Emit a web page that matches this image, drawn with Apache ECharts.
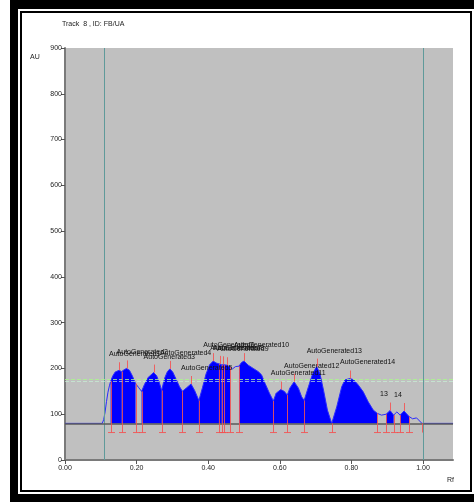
<!DOCTYPE html>
<html>
<head>
<meta charset="utf-8">
<script src="https://cdn.jsdelivr.net/npm/echarts@6/dist/echarts.min.js"></script>
<style>
  html, body { margin: 0; padding: 0; background: #fff; }
  #chart { width: 474px; height: 502px; }
</style>
</head>
<body>
<div id="chart"></div>
<script>
// Densitogram of track 8 (Rf vs. AU)
const curveRf = [0.000, 0.104, 0.108, 0.112, 0.116, 0.120, 0.124, 0.1275, 0.133, 0.140, 0.151, 0.158, 0.165, 0.172, 0.180, 0.188, 0.197, 0.205,
  0.214, 0.222, 0.232, 0.2475, 0.256, 0.263, 0.270, 0.278, 0.286, 0.293, 0.301, 0.310, 0.320, 0.328, 0.340, 0.352, 0.362, 0.374,
  0.384, 0.394, 0.404, 0.414, 0.422, 0.430, 0.434, 0.4375, 0.441, 0.445, 0.453, 0.461, 0.468, 0.476, 0.481, 0.486, 0.493, 0.500,
  0.512, 0.526, 0.540, 0.549, 0.559, 0.571, 0.582, 0.590, 0.603, 0.612, 0.621, 0.628, 0.640, 0.652, 0.661, 0.668, 0.680, 0.692,
  0.703, 0.712, 0.722, 0.733, 0.745, 0.759, 0.773, 0.782, 0.796, 0.807, 0.819, 0.833, 0.847, 0.861, 0.872, 0.884, 0.897, 0.908,
  0.918, 0.927, 0.936, 0.947, 0.961, 0.971, 0.982, 0.997, 1.084];
const curveAU = [80, 80, 88, 105, 128, 148, 162, 172, 183, 192, 196, 193, 197, 200, 196, 184, 167, 159,
  150, 165, 180, 191, 184, 170, 152, 178, 193, 199, 192, 177, 160, 150, 158, 166, 152, 130,
  158, 188, 208, 216, 212, 210, 210, 208, 209, 208, 207, 203, 199, 204, 207, 205, 213, 216,
  207, 200, 193, 186, 167, 146, 129, 146, 154, 150, 142, 157, 171, 157, 138, 130, 160, 189,
  204, 189, 153, 109, 80, 116, 160, 175, 178, 175, 164, 149, 127, 109, 102, 98, 100, 108,
  98, 105, 98, 107, 95, 90, 92, 80, 80];

// Integrated peaks: start / end / maximum (Rf) and their names
const peakStart = [0.1275, 0.158, 0.214, 0.270, 0.328, 0.374, 0.430, 0.4375, 0.445, 0.486, 0.582, 0.621, 0.668, 0.745, 0.897, 0.936];
const peakEnd   = [0.158, 0.197, 0.270, 0.328, 0.374, 0.430, 0.4375, 0.445, 0.461, 0.582, 0.621, 0.668, 0.745, 0.872, 0.918, 0.961];
const peakMax   = [0.151, 0.172, 0.2475, 0.293, 0.352, 0.414, 0.434, 0.441, 0.453, 0.500, 0.603, 0.640, 0.703, 0.796, 0.908, 0.947];
const peakNames = ['AutoGenerated1', 'AutoGenerated2', 'AutoGenerated3', 'AutoGenerated4', 'AutoGenerated5',
  'AutoGenerated6', 'AutoGenerated7', 'AutoGenerated8', 'AutoGenerated9', 'AutoGenerated10', 'AutoGenerated11',
  'AutoGenerated12', 'AutoGenerated13', 'AutoGenerated14', '13', '14'];
const trackEnd = 0.997;            // end of scanned track

// Reference levels
const baselineAU = 80;
const markerFootAU = 60;
const levelLines = [176, 171];
const frontLines = [0.106, 1.00];

// Axis ticks
const xTickStep = 0.2;
const xMax = 1.0838;
const yMin = 0, yMax = 900, yStep = 100;

const FONT = "'Liberation Sans', Arial, sans-serif";
const RED = 'rgba(245,80,80,0.85)';

function auAt(rf) {
  for (let i = 0; i < curveRf.length - 1; i++) {
    if (rf >= curveRf[i] && rf <= curveRf[i + 1]) {
      const t = (rf - curveRf[i]) / (curveRf[i + 1] - curveRf[i]);
      return curveAU[i] + t * (curveAU[i + 1] - curveAU[i]);
    }
  }
  return curveAU[curveAU.length - 1];
}

const curveData = curveRf.map((r, i) => [r, curveAU[i]]);
const boundaries = Array.from(new Set(peakStart.concat(peakEnd))).sort((a, b) => a - b);

const fillSeries = peakStart.map((s, k) => ({
  type: 'line',
  data: curveData.filter(p => p[0] >= s - 1e-9 && p[0] <= peakEnd[k] + 1e-9),
  symbol: 'none',
  lineStyle: { width: 0 },
  areaStyle: { color: '#0000ff', opacity: 1, origin: baselineAU },
  silent: true,
  animation: false,
  z: 2
}));

const chart = echarts.init(document.getElementById('chart'), null, { renderer: 'canvas' });

chart.setOption({
  animation: false,
  backgroundColor: '#ffffff',
  textStyle: { fontFamily: FONT },
  grid: { left: 65, top: 48, right: 21, bottom: 42, show: true, backgroundColor: '#c0c0c0', borderWidth: 0 },
  xAxis: {
    type: 'value', min: 0, max: xMax, interval: xTickStep,
    axisLine: { show: true, onZero: false, lineStyle: { color: '#7a7a7a', width: 2 } },
    axisTick: { show: true, length: 4, lineStyle: { color: '#555', width: 1 } },
    axisLabel: { fontSize: 7, color: '#222', fontFamily: FONT, margin: 5, showMaxLabel: false,
      formatter: v => v.toFixed(2) },
    splitLine: { show: false }
  },
  yAxis: {
    type: 'value', min: yMin, max: yMax, interval: yStep,
    axisLine: { show: true, onZero: false, lineStyle: { color: '#7a7a7a', width: 2 } },
    axisTick: { show: true, length: 4, lineStyle: { color: '#555', width: 1 } },
    axisLabel: { fontSize: 7, color: '#222', fontFamily: FONT, margin: 3 },
    splitLine: { show: false }
  },
  graphic: [
    // outer frame
    { type: 'rect', shape: { x: 10, y: 0, width: 464, height: 9 }, style: { fill: '#000' }, silent: true },
    { type: 'rect', shape: { x: 10, y: 0, width: 8, height: 502 }, style: { fill: '#000' }, silent: true },
    { type: 'rect', shape: { x: 10, y: 494, width: 464, height: 8 }, style: { fill: '#000' }, silent: true },
    { type: 'rect', shape: { x: 21, y: 12, width: 450, height: 479 }, style: { fill: 'none', stroke: '#000', lineWidth: 2 }, silent: true },
    { type: 'text', left: 62, top: 21, style: { text: 'Track  8 , ID: FB/UA', font: '7px ' + FONT, fill: '#222' } },
    { type: 'text', left: 30, top: 54, style: { text: 'AU', font: '7px ' + FONT, fill: '#222' } },
    { type: 'text', left: 447, top: 477, style: { text: 'Rf', font: '7px ' + FONT, fill: '#222' } }
  ],
  series: [
    // front lines and baseline beneath the peaks
    {
      type: 'line', data: [], z: 1, silent: true,
      markLine: {
        silent: true, symbol: 'none', label: { show: false }, animation: false,
        data: frontLines.map(v => ({ xAxis: v, lineStyle: { color: '#5f9a9a', width: 1, type: 'solid' } }))
          .concat([{ yAxis: baselineAU, lineStyle: { color: '#5a5a5a', width: 1.5, type: 'solid' } }])
      }
    },
    ...fillSeries,
    // scanned curve
    {
      type: 'line', data: curveData, symbol: 'none', z: 3, silent: true,
      lineStyle: { color: '#2a2aff', width: 1 }
    },
    // level lines
    {
      type: 'line', data: [], z: 4, silent: true,
      markLine: {
        silent: true, symbol: 'none', label: { show: false }, animation: false,
        data: [
          { yAxis: levelLines[0], lineStyle: { color: 'rgba(170,245,140,0.8)', width: 1, type: [4, 2] } },
          { yAxis: levelLines[1], lineStyle: { color: 'rgba(200,245,215,0.65)', width: 1, type: [4, 2] } }
        ]
      }
    },
    // peak boundaries
    {
      type: 'custom', z: 5, silent: true,
      data: boundaries.map(b => [b, auAt(b)]),
      renderItem: (params, api) => {
        const top = api.coord([api.value(0), api.value(1)]);
        const bot = api.coord([api.value(0), markerFootAU]);
        const x = Math.round(top[0]) + 0.5;
        return {
          type: 'group', children: [
            { type: 'line', shape: { x1: x, y1: top[1], x2: x, y2: bot[1] }, style: { stroke: RED, lineWidth: 1 } },
            { type: 'line', shape: { x1: x - 3.5, y1: bot[1], x2: x + 3.5, y2: bot[1] }, style: { stroke: RED, lineWidth: 1 } }
          ]
        };
      }
    },
    // end of track
    {
      type: 'custom', z: 5, silent: true,
      data: [[trackEnd, auAt(trackEnd)]],
      renderItem: (params, api) => {
        const top = api.coord([api.value(0), api.value(1)]);
        const bot = api.coord([api.value(0), markerFootAU]);
        const x = Math.round(top[0]) + 0.5;
        return { type: 'line', shape: { x1: x, y1: top[1], x2: x, y2: bot[1] }, style: { stroke: RED, lineWidth: 1 } };
      }
    },
    // peak maxima and names
    {
      type: 'custom', z: 6, silent: true,
      data: peakMax.map((m, k) => [m, auAt(m), k]),
      renderItem: (params, api) => {
        const p = api.coord([api.value(0), api.value(1)]);
        const x = Math.round(p[0]) + 0.5;
        return {
          type: 'group', children: [
            { type: 'line', shape: { x1: x, y1: p[1], x2: x, y2: p[1] - 8 }, style: { stroke: RED, lineWidth: 1 } },
            { type: 'text', style: { x: p[0] - 10, y: p[1] - 16, text: peakNames[api.value(2)],
              font: '7px ' + FONT, fill: '#111', textAlign: 'left', textVerticalAlign: 'middle' } }
          ]
        };
      }
    }
  ]
});
</script>
</body>
</html>
